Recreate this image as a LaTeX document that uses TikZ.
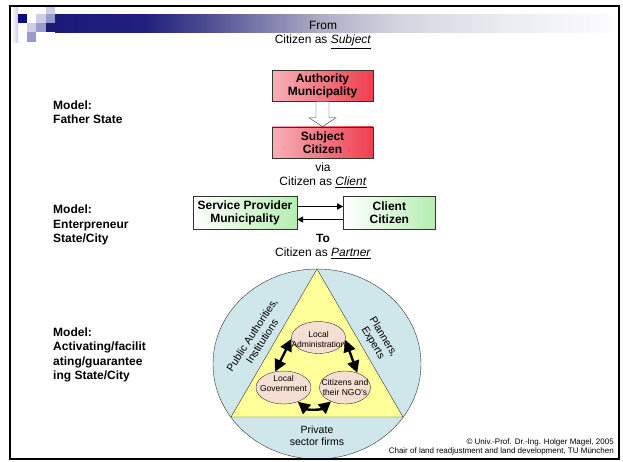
\documentclass[tikz,border=0pt]{standalone}
\usepackage{fontspec}
\setmainfont{Liberation Sans}
\usetikzlibrary{positioning,arrows.meta,shapes.geometric}

\definecolor{navyblue}{HTML}{1A1A78}
\definecolor{navydeep}{HTML}{0B0B80}
\definecolor{bannerA}{HTML}{20207C}
\definecolor{bannerB}{HTML}{48488F}
\definecolor{bannerC}{HTML}{AEAEC6}
\definecolor{bannerD}{HTML}{D4D5E0}
\definecolor{bannerE}{HTML}{EAEBF0}
\definecolor{bannerF}{HTML}{FCFCFD}
\definecolor{lavlight}{HTML}{CDCDE8}
\definecolor{lavmid}{HTML}{9A9ACC}
\definecolor{redpale}{HTML}{F6B0B6}
\definecolor{redfill}{HTML}{EE3F4F}
\definecolor{greenfill}{HTML}{B4EEB0}
\definecolor{boxline}{HTML}{333333}
\definecolor{ringblue}{HTML}{CFE6EA}
\definecolor{triyellow}{HTML}{FFFF99}
\definecolor{ovalfill}{HTML}{F5DED2}

\pgfdeclarehorizontalshading{bannershade}{100bp}{color(0bp)=(navyblue); color(25bp)=(navyblue); color(33bp)=(bannerA); color(38bp)=(bannerB); color(49bp)=(bannerC); color(56bp)=(bannerD); color(65bp)=(bannerE); color(75bp)=(bannerF); color(100bp)=(bannerF)}

\newcommand\bodyfont{\fontsize{12pt}{14pt}\selectfont}
\newcommand\boxfont{\fontsize{12pt}{13pt}\selectfont\bfseries}
\newcommand\modelfont{\fontsize{12pt}{14.5pt}\selectfont\bfseries}
\newcommand\ovalfont{\fontsize{8.5pt}{10pt}\selectfont}
\newcommand\ringfont{\fontsize{10.5pt}{12pt}\selectfont}
\newcommand\notefont{\fontsize{8pt}{9pt}\selectfont}

\begin{document}
\begin{tikzpicture}[x=1pt, y=-1pt,
redbox/.style={rectangle, draw=boxline, left color=redpale, middle color=white, right color=redfill, minimum width=101pt, minimum height=31pt, inner sep=1pt, align=center, font=\boxfont},
greenbox/.style={rectangle, draw=boxline, left color=white, right color=greenfill, minimum height=33pt, inner sep=1pt, align=center, font=\boxfont},
caption/.style={align=center, font=\bodyfont, inner sep=0pt},
model/.style={anchor=west, align=left, font=\modelfont, inner sep=0pt},
oval/.style={ellipse, draw=boxline, fill=ovalfill, inner sep=0pt, minimum width=54pt, minimum height=32pt},
ovaltext/.style={align=center, font=\ovalfont, inner sep=0pt},
ringtext/.style={align=center, font=\ringfont, inner sep=0pt},
pairarrow/.style={-{Triangle[length=6pt,width=6pt]}, line width=1.8pt},
ringarrow/.style={{Triangle[length=12pt,width=12pt]}-{Triangle[length=12pt,width=12pt]}, line width=2.4pt},
]
\useasboundingbox (0,0) rectangle (623,461);

%Banner
\shade[shading=bannershade] (55,14) rectangle (612,32);
\shade[left color=white, right color=lavlight] (11,7) rectangle (18,42);
\fill[navydeep] (18,14) rectangle (27,23);
\fill[lavlight] (46,7) rectangle (55,14);
\fill[lavlight] (36,14) rectangle (46,23);
\fill[lavmid] (46,14) rectangle (55,23);
\fill[lavlight] (27,23) rectangle (36,32);
\fill[lavmid] (36,23) rectangle (46,32);
\fill[navyblue] (46,23) rectangle (55,32);
\fill[lavmid] (27,32) rectangle (36,42);

%Nodes
\node[caption] (fromtxt) at (323,35) {From\\Citizen as \underline{\textit{Subject}}};
\node[redbox] (authority) at (322.5,86) {Authority\\Municipality};
\node[redbox, below=25pt of authority] (subject) {Subject\\Citizen};
\node[model] (father) at (53,112) {Model:\\Father State};
\node[caption] (viatxt) at (323,175) {via\\Citizen as \underline{\textit{Client}}};
\node[greenbox, minimum width=104pt] (provider) at (245,213) {Service Provider\\Municipality};
\node[greenbox, minimum width=92pt, right=46pt of provider] (client) {Client\\Citizen};
\node[model] (enterprise) at (53,225) {Model:\\Enterpreneur\\State/City};
\node[caption] (totxt) at (323,246.5) {\textbf{To}\\Citizen as \underline{\textit{Partner}}};
\node[model] (activating) at (53,355) {Model:\\Activating/facilit\\ating/guarantee\\ing State/City};

%Ring
\draw[boxline, fill=ringblue] (317,364) ellipse [x radius=104, y radius=95];
\draw[boxline, fill=triyellow] (317,269) -- (231,417) -- (403,417) -- cycle;
\node[ringtext, rotate=57] (public) at (257,338) {Public Authorities,\\Institutions};
\node[ringtext, rotate=-59] (planners) at (378,340) {Planners,\\Experts};
\node[ringtext] (private) at (317,436) {Private\\sector firms};
\node[oval, label={[ovaltext, yshift=-2pt]center:{Local\\Administration}}] (admin) at (318.5,337.5) {};
\node[oval, minimum width=55pt, minimum height=33pt, label={[ovaltext, yshift=4pt]center:{Local\\Government}}] (government) at (283.5,387.5) {};
\node[oval, minimum width=51pt, minimum height=33pt, label={[ovaltext]center:{Citizens and\\their NGO's}}] (ngo) at (345,387.5) {};

\node[anchor=east, align=right, font=\notefont, inner sep=0pt] (credit) at (614,446.5) {© Univ.-Prof. Dr.-Ing. Holger Magel, 2005\\Chair of land readjustment and land development, TU München};

%Lines
\draw[boxline, fill=white] ([xshift=-6.5pt]authority.south) -- ++(0,16) -- ++(-7,0) -- (subject.north) -- ++(13.5,-9) -- ++(-7,0) -- ([xshift=6.5pt]authority.south) -- cycle;
\draw[pairarrow] ([yshift=6.5pt]provider.east) -- ([yshift=6.5pt]client.west);
\draw[pairarrow] ([yshift=-6.5pt]client.west) -- ([yshift=-6.5pt]provider.east);
\draw[ringarrow] (admin.183) -- (government.118);
\draw[ringarrow] (admin.-5) -- (ngo.50);
\draw[ringarrow] (government.-45) to[out=-40, in=-140] (ngo.-135);

%Frame
\draw[line width=2pt] (10,6) rectangle (619,459);
\end{tikzpicture}
\end{document}
